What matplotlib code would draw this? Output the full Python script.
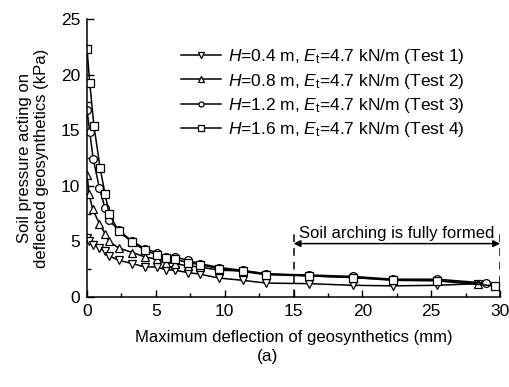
import matplotlib
matplotlib.use("Agg")
import matplotlib.pyplot as plt
from matplotlib.ticker import MultipleLocator

plt.rcParams["font.family"] = ["Liberation Sans", "DejaVu Sans"]
plt.rcParams["mathtext.fontset"] = "custom"
plt.rcParams["mathtext.rm"] = "Liberation Sans"
plt.rcParams["mathtext.it"] = "Liberation Sans:italic"

# deflection (mm) and soil pressure (kPa) for each test
x_t1 = [0.0, 0.15, 0.45, 0.9, 1.3, 1.6, 2.3, 3.3, 4.2, 5.05, 5.7, 6.4, 7.3, 8.2, 9.6, 11.3, 13.0, 16.1, 19.3, 22.2, 25.4, 28.4]
p_t1 = [5.3, 5.0, 4.7, 4.4, 4.1, 3.7, 3.3, 3.0, 2.7, 2.7, 2.45, 2.4, 2.2, 2.05, 1.7, 1.5, 1.25, 1.2, 1.05, 1.0, 1.05, 1.2]

x_t2 = [0.0, 0.15, 0.4, 0.9, 1.3, 1.6, 2.3, 3.3, 4.2, 5.05, 5.7, 6.4, 7.3, 8.2, 9.6, 11.3, 13.0, 16.1, 19.3, 22.2, 25.4, 28.4]
p_t2 = [11.0, 9.3, 7.9, 6.6, 5.7, 5.0, 4.4, 4.0, 3.6, 3.4, 3.1, 3.0, 2.8, 2.7, 2.4, 2.35, 2.1, 1.9, 1.75, 1.55, 1.5, 1.2]

x_t3 = [0.0, 0.2, 0.45, 0.9, 1.3, 1.6, 2.3, 3.3, 4.2, 5.05, 5.7, 6.4, 7.3, 8.2, 9.6, 11.3, 13.0, 16.1, 19.3, 22.2, 25.4, 29.0]
p_t3 = [16.8, 14.8, 12.4, 9.8, 8.0, 6.9, 6.0, 5.0, 4.35, 4.0, 3.6, 3.6, 3.3, 3.0, 2.65, 2.4, 2.07, 1.98, 1.85, 1.6, 1.6, 1.25]

x_t4 = [0.0, 0.2, 0.5, 0.95, 1.3, 1.6, 2.3, 3.3, 4.2, 5.05, 5.7, 6.4, 7.3, 8.2, 9.6, 11.3, 13.0, 16.1, 19.3, 22.2, 25.4, 29.6]
p_t4 = [22.3, 19.2, 15.4, 11.6, 9.3, 7.5, 5.9, 4.9, 4.2, 3.8, 3.5, 3.4, 3.1, 2.9, 2.55, 2.3, 2.0, 1.9, 1.75, 1.5, 1.45, 1.0]

labels = [
    r"$\it{H}$=0.4 m, $\it{E}_\mathrm{t}$=4.7 kN/m (Test 1)",
    r"$\it{H}$=0.8 m, $\it{E}_\mathrm{t}$=4.7 kN/m (Test 2)",
    r"$\it{H}$=1.2 m, $\it{E}_\mathrm{t}$=4.7 kN/m (Test 3)",
    r"$\it{H}$=1.6 m, $\it{E}_\mathrm{t}$=4.7 kN/m (Test 4)",
]
markers = ["v", "^", "o", "s"]

# range where soil arching is fully formed
arch_start, arch_end = 15, 30

fig = plt.figure(figsize=(5.09, 3.87), dpi=100)
ax = fig.add_axes([0.171, 0.2326, 0.8115, 0.7184])

series = [(x_t1, p_t1), (x_t2, p_t2), (x_t3, p_t3), (x_t4, p_t4)]
for (xs, ps), m, lab in zip(series, markers, labels):
    ax.plot(xs, ps, color="black", lw=1.1, marker=m, ms=5.6,
            mfc="white", mec="black", mew=0.9, label=lab)

ax.set_xlim(0, 30)
ax.set_ylim(0, 25)
ax.xaxis.set_major_locator(MultipleLocator(5))
ax.xaxis.set_minor_locator(MultipleLocator(2.5))
ax.yaxis.set_major_locator(MultipleLocator(5))
ax.yaxis.set_minor_locator(MultipleLocator(2.5))
ax.tick_params(which="both", direction="in", labelsize=12.5, width=1)
ax.tick_params(which="major", length=5, pad=5)
ax.tick_params(which="minor", length=3)
ax.spines["top"].set_visible(False)
ax.spines["right"].set_visible(False)
ax.spines["left"].set_linewidth(1.1)
ax.spines["bottom"].set_linewidth(1.1)

ax.set_xlabel("Maximum deflection of geosynthetics (mm)", fontsize=12, labelpad=8)
ax.set_ylabel("Soil pressure acting on\ndeflected geosynthetics (kPa)", fontsize=12,
              labelpad=8, linespacing=1.2)

# dashed bounds and arrow for the arching zone
for xv in (arch_start, arch_end):
    ax.plot([xv, xv], [0, 5.7], color="black", lw=1.1, ls=(0, (5, 4)))
ax.annotate("", xy=(arch_end, 4.8), xytext=(arch_start, 4.8),
            arrowprops=dict(arrowstyle="<|-|>", color="black", lw=1.1,
                            mutation_scale=10, shrinkA=0, shrinkB=0))
ax.text((arch_start + arch_end) / 2, 5.05, "Soil arching is fully formed",
        ha="center", va="bottom", fontsize=12)

ax.legend(loc="upper left", bbox_to_anchor=(0.227, 0.898), frameon=False,
          fontsize=12.5, handlelength=2.3, handletextpad=0.4,
          labelspacing=0.3, borderpad=0, borderaxespad=0, markerscale=0.65)

fig.text(0.525, 0.078, "(a)", ha="center", va="center", fontsize=12.5)

fig.savefig("out.png", dpi=100)
